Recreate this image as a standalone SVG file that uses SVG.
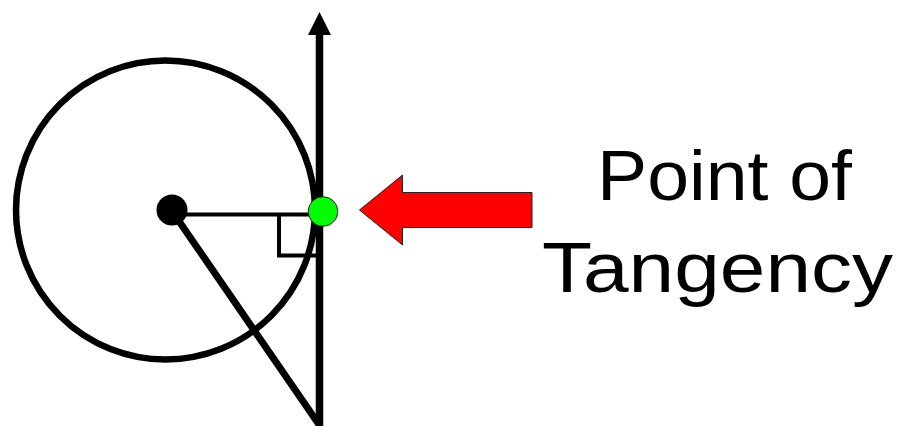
<svg xmlns="http://www.w3.org/2000/svg" width="902" height="426" viewBox="0 0 902 426">
<style>
.blk{stroke:#000;fill:none}
.lbl{font-family:"Liberation Sans","DejaVu Sans",sans-serif;font-size:70px;fill:#000}
</style>
<rect width="902" height="426" fill="#fff"/>
<g id="circle">
<circle class="blk" cx="165.5" cy="210" r="149.5" stroke-width="6.5"/>
</g>
<g id="connectors">
<line class="blk" x1="319.5" y1="30" x2="319.5" y2="426" stroke-width="7.5"/>
<polygon points="319.5,12 308,35 331,35" fill="#000"/>
<line class="blk" x1="172" y1="214.5" x2="320" y2="214.5" stroke-width="4"/>
<polyline class="blk" points="279,214.5 279,255.5 318,255.5" stroke-width="4"/>
<line class="blk" x1="172" y1="211" x2="320" y2="426" stroke-width="7"/>
</g>
<g id="center">
<circle cx="172" cy="210" r="15.5" fill="#000"/>
</g>
<g id="tangent-point">
<circle cx="323" cy="211.5" r="14.8" fill="#00ff00" stroke="#222" stroke-width="1"/>
</g>
<g id="red-arrow">
<polygon points="359.5,210 402.5,175 402.5,192.5 532,192.5 532,227.5 402.5,227.5 402.5,245" fill="#ff0000" stroke="#222" stroke-width="1"/>
</g>
<g id="label">
<text class="lbl" x="597" y="200" textLength="255" lengthAdjust="spacingAndGlyphs">Point of</text>
<text class="lbl" x="542" y="291.5" textLength="351" lengthAdjust="spacingAndGlyphs">Tangency</text>
</g>
</svg>
